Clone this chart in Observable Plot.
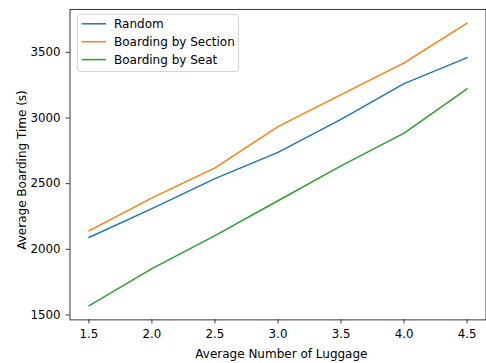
<!DOCTYPE html>
<html>
<head>
<meta charset="utf-8">
<script src="https://cdn.jsdelivr.net/npm/d3@7"></script>
<script src="https://cdn.jsdelivr.net/npm/@observablehq/plot@0.6"></script>
<style>
  html, body { margin: 0; padding: 0; background: #fff; overflow: hidden; }
  #wrap { position: relative; width: 486px; height: 363px; overflow: hidden; font-family: 'DejaVu Sans'; color: #000; }
  #wrap > svg { position: absolute; left: 0; top: 0; }
  .lbl { position: absolute; font-size: 12px; line-height: 1; white-space: nowrap; font-family: 'DejaVu Sans'; }
  #legend { position: absolute; left: 76.5px; top: 14px; width: 162px; height: 58px; border: 1px solid #d6d6d6; border-radius: 3px; background: rgba(255,255,255,0.8); box-sizing: border-box; }
</style>
</head>
<body>
<div id="wrap"></div>
<script>
const luggage = [1.5, 2.0, 2.5, 3.0, 3.5, 4.0, 4.5];
const seriesNames = ["Random", "Boarding by Section", "Boarding by Seat"];
const randomTimes = [2090, 2310, 2538, 2738, 2990, 3262, 3460];
const sectionTimes = [2140, 2392, 2620, 2935, 3178, 3420, 3722];
const seatTimes = [1570, 1853, 2105, 2370, 2635, 2885, 3222];
const colors = ["#1f77b4", "#ff7f0e", "#2ca02c"];
const xTicks = [1.5, 2.0, 2.5, 3.0, 3.5, 4.0, 4.5];
const yTicks = [1500, 2000, 2500, 3000, 3500];

const allSeries = [randomTimes, sectionTimes, seatTimes];
const data = [];
allSeries.forEach((vals, i) => vals.forEach((v, j) => data.push({x: luggage[j], y: v, s: seriesNames[i]})));

const chart = Plot.plot({
  width: 493,
  height: 363,
  marginLeft: 70.5,
  marginRight: 0.5,
  marginTop: 9,
  marginBottom: 39,
  style: {fontFamily: "'DejaVu Sans'", fontSize: "12px", color: "#000", background: "transparent"},
  x: {domain: [1.35, 4.65]},
  y: {domain: [1462.5, 3827.5]},
  color: {domain: seriesNames, range: colors},
  marks: [
    Plot.line(data, {x: "x", y: "y", z: "s", stroke: "s", strokeWidth: 1.5}),
    Plot.frame({stroke: "#000", strokeWidth: 0.8}),
    Plot.axisX({ticks: xTicks, tickFormat: d3.format(".1f"), tickSize: 4, tickPadding: 5.5, label: null, fontSize: 12, strokeWidth: 0.8}),
    Plot.axisY({ticks: yTicks, tickFormat: d => String(d), tickSize: 4, tickPadding: 5.5, label: null, fontSize: 12, strokeWidth: 0.8})
  ]
});
const wrap = document.getElementById("wrap");
wrap.appendChild(chart);

const xl = document.createElement("div");
xl.className = "lbl";
xl.textContent = "Average Number of Luggage";
xl.style.left = "281.4px"; xl.style.top = "354.2px"; xl.style.transform = "translate(-50%,-50%)";
wrap.appendChild(xl);

const yl = document.createElement("div");
yl.className = "lbl";
yl.textContent = "Average Boarding Time (s)";
yl.style.left = "21.8px"; yl.style.top = "170px"; yl.style.transform = "translate(-50%,-50%) rotate(-90deg)";
wrap.appendChild(yl);

const lg = document.createElement("div");
lg.id = "legend";
const ns = "http://www.w3.org/2000/svg";
const lsvg = document.createElementNS(ns, "svg");
lsvg.setAttribute("width", 160); lsvg.setAttribute("height", 56);
lsvg.style.position = "absolute"; lsvg.style.left = "0"; lsvg.style.top = "0";
seriesNames.forEach((n, i) => {
  const yy = 8.8 + i * 17.9;
  const ln = document.createElementNS(ns, "line");
  ln.setAttribute("x1", 3.7); ln.setAttribute("x2", 28);
  ln.setAttribute("y1", yy); ln.setAttribute("y2", yy);
  ln.setAttribute("stroke", colors[i]); ln.setAttribute("stroke-width", 1.5);
  lsvg.appendChild(ln);
  const t = document.createElementNS(ns, "text");
  t.setAttribute("x", 36); t.setAttribute("y", yy);
  t.setAttribute("dy", "0.36em");
  t.setAttribute("font-size", "12px");
  t.setAttribute("font-family", "DejaVu Sans");
  t.textContent = n;
  lsvg.appendChild(t);
});
lg.appendChild(lsvg);
wrap.appendChild(lg);
</script>
</body>
</html>
